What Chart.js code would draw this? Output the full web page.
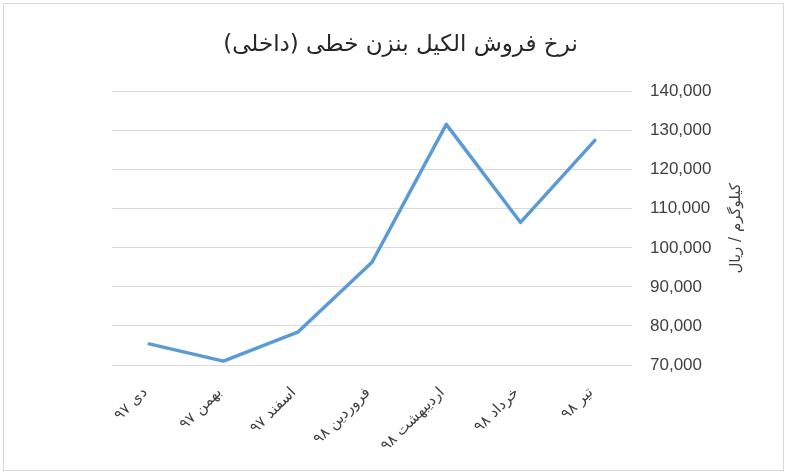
<!DOCTYPE html>
<html>
<head>
<meta charset="utf-8">
<script src="https://cdn.jsdelivr.net/npm/chart.js@4/dist/chart.umd.min.js"></script>
<style>
  body { margin: 0; background: #fff; }
  #wrap { position: relative; width: 789px; height: 476px; }
  #frame { position: absolute; left: 3px; top: 3px; width: 781px; height: 468px;
           border: 1.5px solid #d9d9d9; box-sizing: border-box; pointer-events: none; }
</style>
</head>
<body>
<div id="wrap">
  <canvas id="chart-canvas" width="789" height="476"></canvas>
  <div id="frame"></div>
</div>
<script>
const chartTitle = 'نرخ فروش الکیل بنزن خطی (داخلی)';
const yAxisTitle = 'کیلوگرم / ریال';
const months = ['دی ۹۷', 'بهمن ۹۷', 'اسفند ۹۷', 'فروردین ۹۸', 'اردیبهشت ۹۸', 'خرداد ۹۸', 'تیر ۹۸'];
const prices = [75400, 71000, 78400, 96300, 131600, 106500, 127500];
const yTicks = [70000, 80000, 90000, 100000, 110000, 120000, 130000, 140000];

const persianFont = "'DejaVu Sans', sans-serif";
const numberFont = "'Liberation Sans', Arial, sans-serif";

// the right axis title in the original reads bottom-to-top, Chart.js would rotate it the other way
const sideTitle = {
    id: 'sideTitle',
    afterDraw(chart) {
        const ctx = chart.ctx;
        const area = chart.chartArea;
        ctx.save();
        ctx.translate(736, (area.top + area.bottom) / 2);
        ctx.rotate(-Math.PI / 2);
        ctx.font = `15px ${persianFont}`;
        ctx.fillStyle = '#404040';
        ctx.textAlign = 'center';
        ctx.textBaseline = 'middle';
        ctx.fillText(yAxisTitle, 0, 0);
        ctx.restore();
    }
};

function init() {
    const ctx = document.getElementById('chart-canvas').getContext('2d');
    new Chart(ctx, {
        type: 'line',
        data: {
            labels: months,
            datasets: [{
                data: prices,
                borderColor: '#5b9bd5',
                borderWidth: 3.5,
                borderJoinStyle: 'round',
                borderCapStyle: 'round',
                pointRadius: 0,
                tension: 0,
                yAxisID: 'y'
            }]
        },
        options: {
            responsive: false,
            animation: false,
            layout: { padding: { left: 12, right: 0, top: 0, bottom: 0 } },
            plugins: {
                legend: { display: false },
                tooltip: { enabled: false },
                title: {
                    display: true,
                    text: chartTitle,
                    color: '#262626',
                    font: { family: persianFont, size: 23, weight: 'normal' },
                    padding: { top: 31, bottom: 33 }
                }
            },
            scales: {
                x: {
                    offset: true,
                    grid: { display: false, drawTicks: false },
                    border: { display: false },
                    ticks: {
                        color: '#404040',
                        font: { family: persianFont, size: 15 },
                        minRotation: 45,
                        maxRotation: 45,
                        padding: 19,
                        labelOffset: -4,
                        autoSkip: false
                    },
                    afterFit: s => { s.height = 111; }
                },
                y: {
                    position: 'right',
                    min: 70000,
                    max: 140000,
                    afterBuildTicks: s => { s.ticks = yTicks.map(v => ({ value: v })); },
                    grid: { color: '#d9d9d9', lineWidth: 1, drawTicks: false },
                    border: { display: false },
                    ticks: {
                        color: '#404040',
                        font: { family: numberFont, size: 17 },
                        padding: 18,
                        callback: v => v.toLocaleString('en-US')
                    },
                    afterFit: s => { s.width = 157; }
                },
                spacer: {
                    type: 'linear',
                    position: 'left',
                    grid: { display: false },
                    border: { display: false },
                    ticks: { display: false },
                    afterFit: s => { s.width = 100; }
                }
            }
        },
        plugins: [sideTitle]
    });
}

document.addEventListener('DOMContentLoaded', init);
</script>
</body>
</html>
